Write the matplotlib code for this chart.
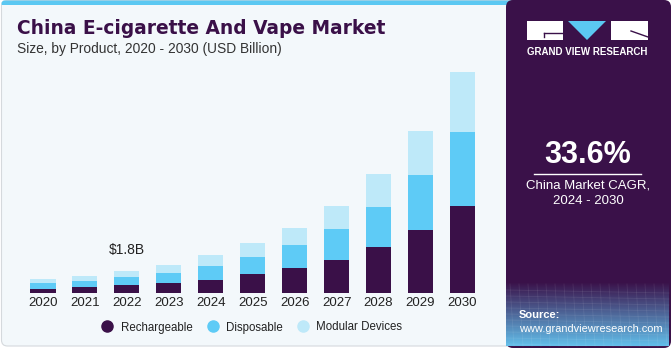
import numpy as np
import matplotlib
matplotlib.use("Agg")
import matplotlib.pyplot as plt
from matplotlib.patches import FancyBboxPatch, Rectangle, Polygon
from matplotlib.lines import Line2D

# 数据（单位：十亿美元）
years = ["2020", "2021", "2022", "2023", "2024", "2025", "2026", "2027", "2028", "2029", "2030"]
rechargeable = [0.32, 0.51, 0.67, 0.86, 1.10, 1.53, 2.02, 2.69, 3.71, 5.13, 7.07]
disposable = [0.53, 0.51, 0.67, 0.81, 1.13, 1.42, 1.88, 2.50, 3.25, 4.39, 5.97]
modular = [0.27, 0.38, 0.46, 0.65, 0.86, 1.08, 1.40, 1.88, 2.69, 3.55, 4.84]
series_names = ["Rechargeable", "Disposable", "Modular Devices"]
colors = ["#3A1048", "#5ECBF6", "#BEE9F9"]
label_year = "2022"
label_text = "$1.8B"
cagr = "33.6%"

plt.rcParams["font.family"] = ["Liberation Sans", "DejaVu Sans"]

W, H = 671, 350
fig = plt.figure(figsize=(W / 100, H / 100), dpi=100)
fig.patch.set_facecolor("white")

# 背景层，像素坐标
bg = fig.add_axes([0, 0, 1, 1])
bg.set_xlim(0, W)
bg.set_ylim(H, 0)
bg.axis("off")

# 左侧主面板
bg.add_patch(FancyBboxPatch((1.5, 0.5), 520, 345.5, boxstyle="round,pad=0,rounding_size=6",
                            facecolor="#F3F8FB", edgecolor="#D5D9DD", lw=0.8, zorder=0))
bg.add_patch(FancyBboxPatch((1.5, 0.5), 520, 6, boxstyle="round,pad=0,rounding_size=3",
                            facecolor="#5BC8F2", edgecolor="none", zorder=1))
bg.add_patch(Rectangle((1.5, 4.5), 520, 3, facecolor="#F3F8FB", edgecolor="none", zorder=1))

# 右侧深色面板
bg.add_patch(FancyBboxPatch((506, 0), 165, 348, boxstyle="round,pad=0,rounding_size=7",
                            facecolor="#3A1149", edgecolor="none", zorder=2))
# 底部渐变
grad = np.linspace(0, 1, 100)[:, None]
c0 = np.array([0x3A, 0x11, 0x49]) / 255
c1 = np.array([0x62, 0xBE, 0xEA]) / 255
img = c0[None, None, :] * (1 - grad[..., None]) + c1[None, None, :] * grad[..., None]
img = np.repeat(img, 2, axis=1)
bg.imshow(img, extent=(506, 669, 346, 282), aspect="auto", zorder=3)
for yy in np.arange(290, 346, 6):
    bg.plot([506, 669], [yy, yy + 3], color="white", alpha=0.08, lw=0.6, zorder=4)
for xx in np.arange(510, 669, 9):
    bg.plot([xx, xx + 4], [284, 346], color="white", alpha=0.08, lw=0.6, zorder=4)

# 标志
bg.add_patch(Rectangle((527, 21), 36, 19, facecolor="white", zorder=5))
bg.plot([544, 562], [33, 33], color="#3A1149", lw=1, zorder=6)
bg.plot([544, 544], [33, 37], color="#3A1149", lw=1, zorder=6)
bg.add_patch(Polygon([(568, 21), (606, 21), (587, 40)], closed=True, facecolor="#5BC8F2", zorder=5))
bg.add_patch(Rectangle((611, 21), 37, 19, facecolor="white", zorder=5))
bg.plot([631, 648], [31, 37], color="#3A1149", lw=1, zorder=6)
bg.text(587.5, 52, "GRAND VIEW RESEARCH", color="white", fontsize=7, fontweight="bold",
        ha="center", va="center", zorder=6)

bg.text(588, 155, cagr, color="white", fontsize=22, fontweight="bold", ha="center", va="center", zorder=6)
bg.plot([534, 641], [173.5, 173.5], color="white", lw=1, zorder=6)
bg.text(588, 185, "China Market CAGR,", color="white", fontsize=9.5, ha="center", va="center", zorder=6)
bg.text(588, 201, "2024 - 2030", color="white", fontsize=9.5, ha="center", va="center", zorder=6)
bg.text(519, 315, "Source:", color="white", fontsize=8, fontweight="bold", ha="left", va="center", zorder=6)
bg.text(519, 329.5, "www.grandviewresearch.com", color="white", fontsize=7.9, ha="left", va="center", zorder=6)

# 标题
bg.text(17, 29, "China E-cigarette And Vape Market", color="#3A1048", fontsize=13.4,
        fontweight="bold", family="DejaVu Sans", ha="left", va="center", zorder=6)
bg.text(17, 49, "Size, by Product, 2020 - 2030 (USD Billion)", color="#333333", fontsize=9.9,
        ha="left", va="center", zorder=6)

# 柱状图
ax = fig.add_axes([19.9 / W, (H - 293.3) / H, 465.6 / W, 247.8 / H])
ax.patch.set_alpha(0)
x = np.arange(len(years))
r = np.array(rechargeable)
d = np.array(disposable)
m = np.array(modular)
ax.bar(x, r, width=0.6, color=colors[0], label=series_names[0])
ax.bar(x, d, width=0.6, bottom=r, color=colors[1], label=series_names[1])
ax.bar(x, m, width=0.6, bottom=r + d, color=colors[2], label=series_names[2])
ax.set_xlim(-0.55, 10.55)
ax.set_ylim(0, 20)
ax.set_xticks(x)
ax.set_xticklabels(years, fontsize=9.5, color="#222222")
ax.tick_params(axis="x", length=0, pad=3)
ax.set_yticks([])
for s in ax.spines.values():
    s.set_visible(False)

i = years.index(label_year)
total = r[i] + d[i] + m[i]
ax.annotate(label_text, (x[i], total), xytext=(0, 10), textcoords="offset points",
            ha="center", va="bottom", fontsize=10, color="#222222")

handles = [Line2D([], [], marker="o", linestyle="none", markersize=8, markerfacecolor=c,
                  markeredgecolor=c) for c in colors]
fig.legend(handles, series_names, loc="center", bbox_to_anchor=(249 / W, (H - 327.5) / H),
           ncol=3, frameon=False, fontsize=8.3, handletextpad=0.15, columnspacing=0.75,
           labelcolor="#222222")

fig.savefig("out.png", dpi=100, facecolor=fig.get_facecolor())
